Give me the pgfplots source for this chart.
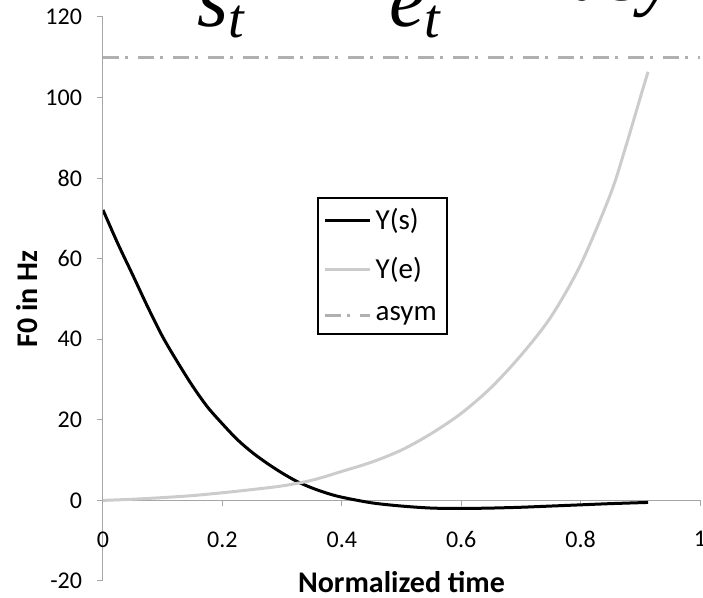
\documentclass[border=0pt]{standalone}
\usepackage{fontspec}
\setmainfont{Carlito}
\newfontfamily\tnr{Liberation Serif}
\usepackage{pgfplots}
\pgfplotsset{compat=1.18}
\definecolor{AxisGray}{HTML}{A6A6A6}
\definecolor{CurveGray}{HTML}{CCCCCC}
\definecolor{AsymGray}{HTML}{B0B0B0}

\begin{document}
\begin{tikzpicture}
\begin{axis}[
  scale only axis,width=298.5pt,height=282pt,
  xmin=0,xmax=1,ymin=-20,ymax=120,
  axis x line=middle,axis y line=left,
  axis line style={draw=AxisGray,line width=0.5pt,-},
  xtick={0,0.2,0.4,0.6,0.8,1},ytick={-20,0,20,40,60,80,100,120},
  xticklabels={0,0.2,0.4,0.6,0.8,1},
  tick align=outside,major tick length=3pt,
  tick style={draw=AxisGray,line width=0.5pt},
  hide obscured x ticks=false,hide obscured y ticks=false,
  /pgf/number format/assume math mode=true,
  xticklabel style={font=\fontsize{12}{14}\selectfont,yshift=-9pt},
  yticklabel style={font=\fontsize{12}{14}\selectfont,xshift=-4pt},
  legend style={at={(axis cs:0.358,75.2)},anchor=north west,
    draw=black,line width=1pt,fill=white,
    font=\fontsize{14.5}{17}\selectfont,
    inner xsep=3pt,inner ysep=3pt,row sep=8.5pt},
  legend cell align=left,
  legend image code/.code={\draw[#1] (0pt,0pt) -- (22.5pt,0pt);},
]
  \coordinate (O) at (rel axis cs:0,0);
  % Y(s)
  \addplot[black,line width=1.5pt,smooth] coordinates {
    (0,72.1) (0.025,63.7) (0.05,55.9) (0.075,48.0) (0.1,40.6)
    (0.125,34.3) (0.15,28.4) (0.175,23.2) (0.2,19.0) (0.225,15.1)
    (0.25,11.9) (0.275,9.2) (0.3,6.8) (0.325,4.7) (0.35,3.1)
    (0.375,1.8) (0.4,0.8) (0.45,-0.6) (0.5,-1.4) (0.55,-1.9)
    (0.6,-2.0) (0.65,-1.9) (0.7,-1.7) (0.75,-1.4) (0.8,-1.1)
    (0.85,-0.8) (0.913,-0.5)};
  \addlegendentry{Y(s)}
  % Y(e)
  \addplot[CurveGray,line width=1.5pt,smooth] coordinates {
    (0,0) (0.05,0.3) (0.1,0.7) (0.15,1.2) (0.2,1.9) (0.25,2.7)
    (0.3,3.6) (0.35,5.0) (0.4,7.2) (0.45,9.5) (0.5,12.5) (0.55,16.6)
    (0.6,21.6) (0.65,28.0) (0.7,36.0) (0.75,45.5) (0.8,58.5)
    (0.85,76.0) (0.875,87.5) (0.9,100.0) (0.913,106.4)};
  \addlegendentry{Y(e)}
  % asymptote
  \addplot[AsymGray,line width=1.5pt,dash pattern=on 8pt off 3pt on 1.5pt off 5pt]
    coordinates {(0,110) (1,110)};
  \addlegendentry{asym}
\end{axis}
\node[inner sep=0pt,font=\fontsize{15}{17}\selectfont\bfseries] at ([shift={(149.25pt,-0.5pt)}]O) {Normalized time};
\node[inner sep=0pt,font=\fontsize{15}{17}\selectfont\bfseries,rotate=90] at ([shift={(-38pt,141pt)}]O) {F0 in Hz};
\node[anchor=base west,inner sep=0pt,font=\tnr\itshape\fontsize{40}{44}\selectfont]
  at ([shift={(47pt,277pt)}]O) {s\raisebox{-5.5pt}{\fontsize{28}{30}\selectfont t}};
\node[anchor=base west,inner sep=0pt,font=\tnr\itshape\fontsize{40}{44}\selectfont]
  at ([shift={(143pt,277pt)}]O) {e\raisebox{-5.5pt}{\fontsize{28}{30}\selectfont t}};
\node[anchor=base west,inner sep=0pt,font=\tnr\itshape\fontsize{40}{44}\selectfont]
  at ([shift={(233pt,290pt)}]O) {asy};
\pgfresetboundingbox
\useasboundingbox ([shift={(-51.5pt,-8.5pt)}]O) rectangle ([shift={(300pt,290.5pt)}]O);
\end{tikzpicture}
\end{document}
